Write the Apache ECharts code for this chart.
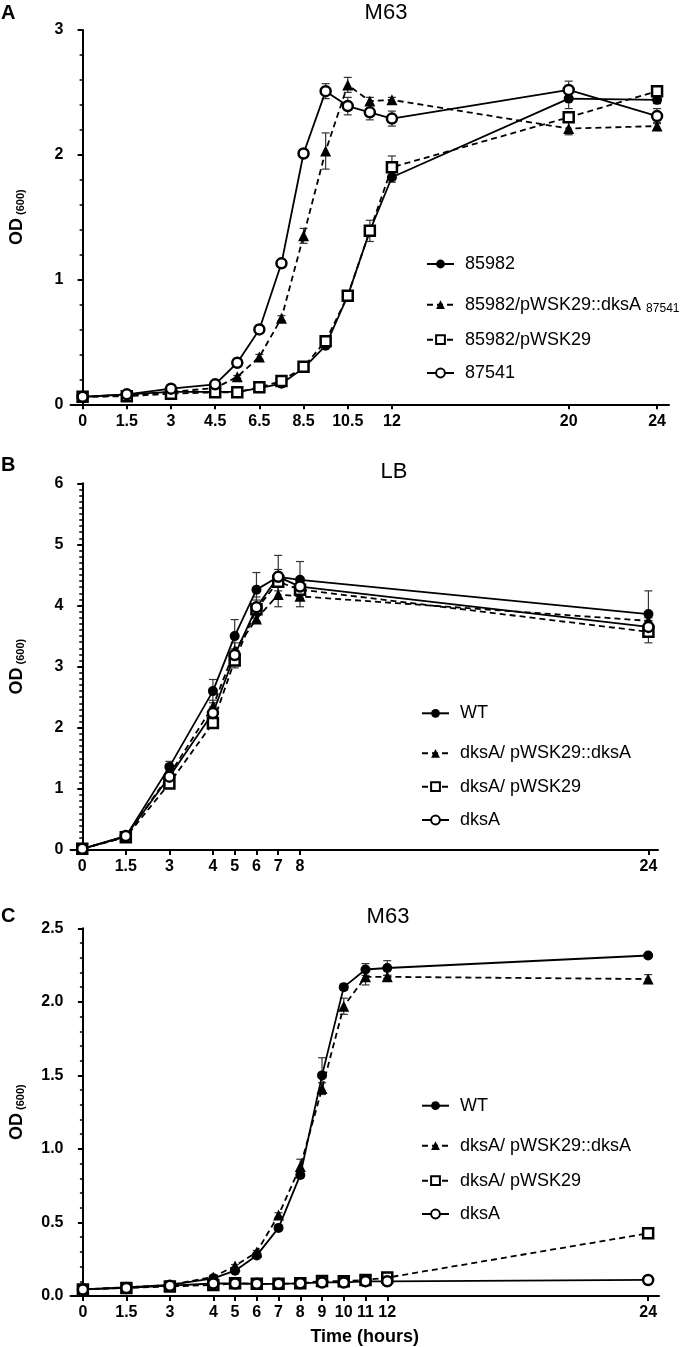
<!DOCTYPE html>
<html><head><meta charset="utf-8">
<script src="https://cdn.jsdelivr.net/npm/echarts@6/dist/echarts.min.js"></script>
<style>html,body{margin:0;padding:0;background:#fff}#c{width:680px;height:1347px}</style>
</head><body><div id="c"></div>
<script>
// ---------- Panel A : M63 ----------
const timesA = [0, 1.5, 3, 4.5, 5.5, 6.5, 7.5, 8.5, 9.5, 10.5, 11.25, 12, 20, 24];
const tickLabelsA = ['0', '1.5', '3', '4.5', '6.5', '8.5', '10.5', '12', '20', '24'];
const tickTimesA = [0, 1.5, 3, 4.5, 6.5, 8.5, 10.5, 12, 20, 24];
const tickSlotsA = [0, 1, 2, 3, 4, 5, 6, 7, 11, 13];   // non-linear axis scale (slot of each tick)
const namesA = ['85982', '85982/pWSK29::dksA 87541', '85982/pWSK29', '87541'];
const a85982    = [0.06, 0.08, 0.10, 0.10, 0.10, 0.13, 0.165, 0.29, 0.47, 0.87, 1.39, 1.82, 2.45, 2.44];
const a85982Err = [0.01, 0.01, 0.01, 0.01, 0.01, 0.01, 0.01, 0.02, 0.02, 0.03, 0.04, 0.04, 0.08, 0.03];
const aComp     = [0.06, 0.07, 0.10, 0.13, 0.22, 0.38, 0.69, 1.35, 2.03, 2.56, 2.43, 2.44, 2.21, 2.23];
const aCompErr  = [0.01, 0.01, 0.01, 0.01, 0.01, 0.02, 0.02, 0.06, 0.145, 0.06, 0.03, 0.02, 0.05, 0.03];
const aVec      = [0.06, 0.065, 0.085, 0.096, 0.096, 0.136, 0.186, 0.30, 0.506, 0.87, 1.39, 1.90, 2.30, 2.51];
const aVecErr   = [0.01, 0.01, 0.01, 0.01, 0.01, 0.01, 0.02, 0.02, 0.03, 0.03, 0.085, 0.09, 0.04, 0.04];
const a87541    = [0.06, 0.08, 0.125, 0.16, 0.333, 0.60, 1.13, 2.01, 2.51, 2.39, 2.34, 2.29, 2.52, 2.31];
const a87541Err = [0.01, 0.01, 0.01, 0.01, 0.02, 0.02, 0.02, 0.02, 0.06, 0.07, 0.06, 0.06, 0.07, 0.06];

// ---------- Panel B : LB ----------
const timesB = [0, 1.5, 3, 4, 5, 6, 7, 8, 24];
const tickLabelsB = ['0', '1.5', '3', '4', '5', '6', '7', '8', '24'];
const tickTimesB = [0, 1.5, 3, 4, 5, 6, 7, 8, 24];
const tickSlotsB = [0, 1, 2, 3, 3.5, 4, 4.5, 5, 13];
const namesBC = ['WT', 'dksA/ pWSK29::dksA', 'dksA/ pWSK29', 'dksA'];
const bWT      = [0.02, 0.22, 1.36, 2.60, 3.50, 4.26, 4.47, 4.42, 3.86];
const bWTErr   = [0, 0.02, 0.09, 0.19, 0.27, 0.28, 0.12, 0.30, 0.38];
const bComp    = [0.02, 0.22, 1.23, 2.35, 3.27, 3.78, 4.18, 4.15, 3.75];
const bCompErr = [0, 0.02, 0.06, 0.10, 0.12, 0.06, 0.20, 0.17, 0.05];
const bVec     = [0.02, 0.21, 1.09, 2.08, 3.10, 3.94, 4.39, 4.26, 3.57];
const bVecErr  = [0, 0.02, 0.06, 0.08, 0.12, 0.20, 0.15, 0.10, 0.18];
const bDksA    = [0.02, 0.23, 1.20, 2.24, 3.19, 3.97, 4.47, 4.31, 3.65];
const bDksAErr = [0, 0.02, 0.05, 0.10, 0.10, 0.12, 0.35, 0.10, 0.10];

// ---------- Panel C : M63 ----------
const timesC = [0, 1.5, 3, 4, 5, 6, 7, 8, 9, 10, 11, 12, 24];
const tickLabelsC = ['0', '1.5', '3', '4', '5', '6', '7', '8', '9', '10', '11', '12', '24'];
const tickTimesC = [0, 1.5, 3, 4, 5, 6, 7, 8, 9, 10, 11, 12, 24];
const tickSlotsC = [0, 1, 2, 3, 3.5, 4, 4.5, 5, 5.5, 6, 6.5, 7, 13];
const cWT      = [0.045, 0.059, 0.075, 0.12, 0.172, 0.276, 0.463, 0.823, 1.50, 2.10, 2.22, 2.23, 2.315];
const cWTErr   = [0, 0, 0, 0.01, 0.01, 0.01, 0.015, 0.02, 0.12, 0.02, 0.04, 0.05, 0.01];
const cComp    = [0.045, 0.059, 0.075, 0.13, 0.204, 0.30, 0.551, 0.88, 1.41, 1.97, 2.17, 2.17, 2.155];
const cCompErr = [0, 0, 0, 0.01, 0.01, 0.01, 0.015, 0.05, 0.04, 0.055, 0.055, 0.01, 0.03];
const cVec     = [0.045, 0.055, 0.065, 0.075, 0.086, 0.083, 0.083, 0.086, 0.102, 0.10, 0.109, 0.125, 0.426];
const cVecErr  = [0, 0, 0, 0, 0, 0, 0, 0, 0, 0, 0, 0, 0.01];
const cDksA    = [0.045, 0.055, 0.07, 0.085, 0.085, 0.083, 0.083, 0.086, 0.092, 0.092, 0.10, 0.10, 0.109];
const cDksAErr = [0, 0, 0, 0, 0, 0, 0, 0, 0, 0, 0, 0, 0.005];

// ---------- helpers ----------
const FONT = "'Liberation Sans', Arial, sans-serif";
function slotOf(t, tt, ts) {
  for (let i = 0; i < tt.length - 1; i++) {
    if (t >= tt[i] && t <= tt[i + 1]) return ts[i] + (t - tt[i]) / (tt[i + 1] - tt[i]) * (ts[i + 1] - ts[i]);
  }
  return ts[ts.length - 1];
}
const STY = [
  { symbol: 'circle', size: 10, fill: '#000', dash: 'solid' },
  { symbol: 'triangle', size: 11, fill: '#000', dash: [6, 4] },
  { symbol: 'rect', size: 10, fill: '#fff', dash: [6, 4] },
  { symbol: 'circle', size: 10, fill: '#fff', dash: 'solid' }
];
const series = [];
function addPanel(gi, names, times, tt, ts, vals, errs) {
  vals.forEach((v, k) => {
    const s = STY[k];
    const xs = times.map(t => slotOf(t, tt, ts));
    series.push({
      type: 'custom', name: names[k] + ' SD', xAxisIndex: gi, yAxisIndex: gi, z: 1,
      encode: { x: 0, y: [1, 2] },
      data: xs.map((x, i) => [x, v[i] - errs[k][i], v[i] + errs[k][i]]).filter((d, i) => errs[k][i] > 0.004),
      renderItem: (p, api) => {
        const x = api.value(0);
        const a = api.coord([x, api.value(2)]), b = api.coord([x, api.value(1)]);
        const w = 4, st = { stroke: '#333', lineWidth: 1.2 };
        return { type: 'group', children: [
          { type: 'line', shape: { x1: a[0], y1: a[1], x2: b[0], y2: b[1] }, style: st },
          { type: 'line', shape: { x1: a[0] - w, y1: a[1], x2: a[0] + w, y2: a[1] }, style: st },
          { type: 'line', shape: { x1: b[0] - w, y1: b[1], x2: b[0] + w, y2: b[1] }, style: st }
        ] };
      }
    });
    series.push({
      type: 'line', name: names[k], xAxisIndex: gi, yAxisIndex: gi, z: 3,
      data: xs.map((x, i) => [x, v[i]]),
      symbol: s.symbol, symbolSize: s.size, showSymbol: true,
      lineStyle: { color: '#000', width: 1.8, type: s.dash },
      itemStyle: { color: s.fill, borderColor: '#000', borderWidth: s.fill === '#fff' ? 2.5 : 0 },
      emphasis: { disabled: true }, animation: false
    });
  });
}
addPanel(0, namesA, timesA, tickTimesA, tickSlotsA, [a85982, aComp, aVec, a87541], [a85982Err, aCompErr, aVecErr, a87541Err]);
addPanel(1, namesBC, timesB, tickTimesB, tickSlotsB, [bWT, bComp, bVec, bDksA], [bWTErr, bCompErr, bVecErr, bDksAErr]);
addPanel(2, namesBC, timesC, tickTimesC, tickSlotsC, [cWT, cComp, cVec, cDksA], [cWTErr, cCompErr, cVecErr, cDksAErr]);

const grids = [
  { left: 65, top: 30, width: 604, height: 374.3 },
  { left: 68, top: 483.3, width: 590, height: 366.7 },
  { left: 65, top: 928.3, width: 594, height: 367.7 }
];
const xr = [[-0.274, 13.27], [-0.27, 13.22], [-0.285, 13.25]];
const slotsArr = [tickSlotsA, tickSlotsB, tickSlotsC];
const labelsArr = [tickLabelsA, tickLabelsB, tickLabelsC];
const axLine = { show: true, lineStyle: { color: '#000', width: 2 } };
const xAxes = grids.map((g, i) => ({
  type: 'value', gridIndex: i, min: xr[i][0], max: xr[i][1],
  axisLine: axLine, splitLine: { show: false },
  axisTick: { show: true, length: 5, lineStyle: { width: 2, color: '#000' }, customValues: slotsArr[i] },
  axisLabel: { customValues: slotsArr[i], margin: 9, color: '#000', fontSize: 16, fontWeight: 'bold', fontFamily: FONT,
    formatter: v => { const j = slotsArr[i].findIndex(s => Math.abs(s - v) < 1e-6); return j >= 0 ? labelsArr[i][j] : ''; } },
  name: i === 2 ? 'Time (hours)' : '', nameLocation: 'middle', nameGap: 32,
  nameTextStyle: { fontSize: 18, fontWeight: 'bold', color: '#000', fontFamily: FONT }
}));
const yCfg = [
  { max: 3, interval: 1, minor: 5, fmt: v => String(v) },
  { max: 6, interval: 1, minor: 10, fmt: v => String(v) },
  { max: 2.5, interval: 0.5, minor: 5, fmt: v => v.toFixed(1) }
];
const yAxes = yCfg.map((c, i) => ({
  type: 'value', gridIndex: i, min: 0, max: c.max, interval: c.interval,
  axisLine: axLine, splitLine: { show: false }, minorSplitLine: { show: false },
  axisTick: { show: true, length: 5, lineStyle: { width: 2, color: '#000' } },
  minorTick: { show: true, splitNumber: c.minor, length: 3, lineStyle: { width: 1.5, color: '#000' } },
  axisLabel: { margin: 7, color: '#000', fontSize: 16, fontWeight: 'bold', fontFamily: FONT, formatter: c.fmt },
  name: '{a|OD}{b| (600)}', nameLocation: 'middle', nameRotate: 90, nameGap: 44,
  nameTextStyle: { color: '#000', fontFamily: FONT,
    rich: { a: { fontSize: 18, fontWeight: 'bold', fontFamily: FONT, color: '#000' },
            b: { fontSize: 11, fontWeight: 'bold', fontFamily: FONT, color: '#000', verticalAlign: 'bottom', padding: [8, 0, 0, 0] } } }
}));

const titles = [
  { text: 'A', left: 1, top: 3, fs: 20, bold: true },
  { text: 'M63', left: 386, top: 2, fs: 22, center: true },
  { text: 'B', left: 1, top: 455, fs: 20, bold: true },
  { text: 'LB', left: 394, top: 461, fs: 22, center: true },
  { text: 'C', left: 1, top: 906, fs: 20, bold: true },
  { text: 'M63', left: 388, top: 906, fs: 22, center: true }
].map(t => ({ text: t.text, left: t.left, top: t.top, padding: 0, textAlign: t.center ? 'center' : 'left',
  textStyle: { fontSize: t.fs, fontWeight: t.bold ? 'bold' : 'normal', color: '#000', fontFamily: FONT } }));

const legendPos = [
  { x: 426, ys: [265, 305.7, 340.7, 374], names: namesA },
  { x: 421, ys: [714.3, 754.3, 787.7, 821], names: namesBC },
  { x: 421, ys: [1106.7, 1146.7, 1181.7, 1215], names: namesBC }
];
const legends = [];
legendPos.forEach(lp => lp.ys.forEach((y, k) => {
  legends.push({
    left: lp.x, top: y - 10, padding: 0, orient: 'vertical', selectedMode: false,
    data: [lp.names[k]], itemWidth: 27, itemHeight: 11,
    textStyle: { fontSize: 18, color: '#000', fontFamily: FONT, padding: [0, 0, 0, 6],
      rich: { m: { fontSize: 18, color: '#000', fontFamily: FONT }, s: { fontSize: 12, color: '#000', fontFamily: FONT, verticalAlign: 'bottom', padding: [7, 0, 0, 0] } } },
    formatter: n => { const sp = n.lastIndexOf(' '); return /\d+$/.test(n) && sp > 0 && n.indexOf('::') > 0 ? '{m|' + n.slice(0, sp) + ' }{s|' + n.slice(sp + 1) + '}' : n; }
  });
}));

const chart = echarts.init(document.getElementById('c'), null, { renderer: 'canvas' });
chart.setOption({
  backgroundColor: '#fff', animation: false,
  title: titles, legend: legends, grid: grids, xAxis: xAxes, yAxis: yAxes, series: series
});
</script></body></html>
